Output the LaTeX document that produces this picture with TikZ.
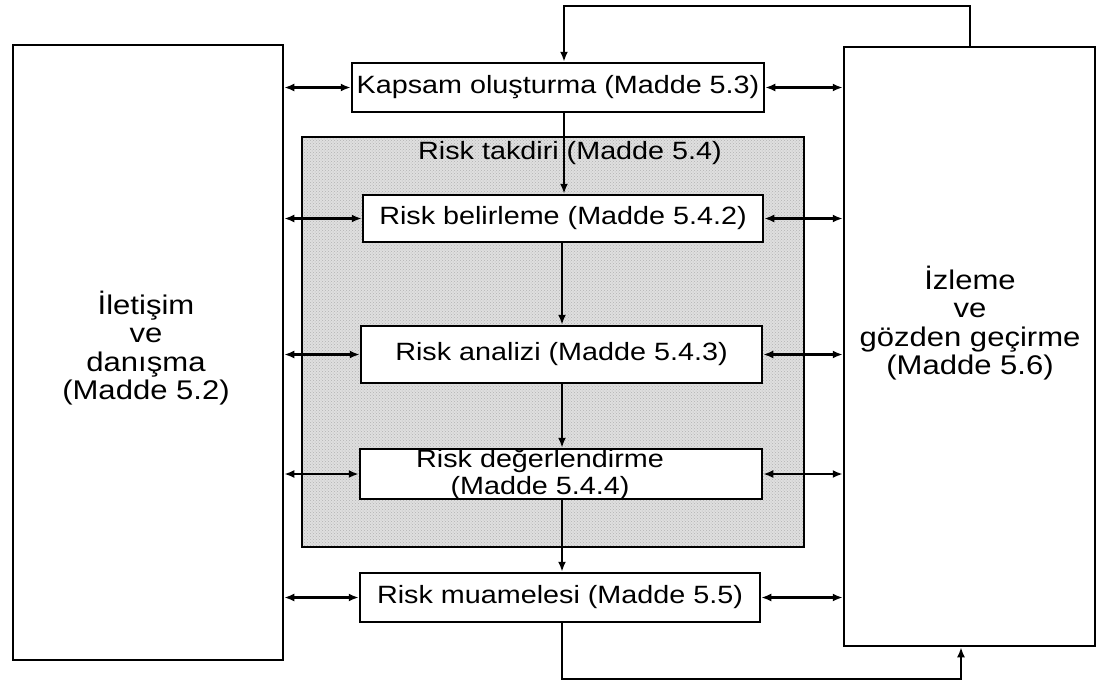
\documentclass[tikz,border=0pt]{standalone}
\usepackage{fontspec}
\setmainfont{Liberation Sans}[FakeStretch=1.15]
\usetikzlibrary{arrows.meta,patterns}
\begin{document}
\begin{tikzpicture}[x=1pt,y=-1pt,line width=2.5pt,
  box/.style={draw,fill=white,inner sep=0pt,rectangle},
  txt/.style={font=\fontsize{25}{27}\selectfont},
  side/.style={font=\fontsize{27}{28.5}\selectfont,align=center,inner sep=0pt},
  arr/.style={-{Latex[length=10pt,width=8pt]}},
  darr/.style={{Latex[length=10pt,width=8pt]}-{Latex[length=10pt,width=8pt]}}]
\useasboundingbox (0,0) rectangle (1100,697);
% side boxes
\node[box,minimum width=270pt,minimum height=615pt] (L) at (148,352.5) {};
\node[box,minimum width=251pt,minimum height=599pt] (R) at (969.5,346.5) {};
\node[side] (LT) at (146,348) {İletişim\\ve\\danışma\\(Madde 5.2)};
\node[side] (RT) at (970,323) {İzleme\\ve\\gözden geçirme\\(Madde 5.6)};
% shaded risk assessment area
\node[draw,preaction={fill=gray!25},pattern=crosshatch dots,pattern color=gray!60,
      inner sep=0pt,minimum width=502pt,minimum height=410pt] (S) at (553,342) {};
\node[txt,inner sep=0pt] (ST) at (570,153) {Risk takdiri (Madde 5.4)};
% process boxes
\node[box,txt,minimum width=412pt,minimum height=49pt] (K) at (558,87.5) {Kapsam oluşturma (Madde 5.3)};
\node[box,txt,minimum width=400pt,minimum height=47pt] (B) at (563,218.5) {Risk belirleme (Madde 5.4.2)};
\node[box,txt,minimum width=401pt,minimum height=57pt] (A) at (561.5,354.5) {Risk analizi (Madde 5.4.3)};
\node[box,minimum width=402pt,minimum height=50pt] (D) at (561,474) {};
\node[txt,align=center,inner sep=0pt] (DT) at (540,474.5) {Risk değerlendirme\\(Madde 5.4.4)};
\node[box,txt,minimum width=400pt,minimum height=49pt] (M) at (560,597.5) {Risk muamelesi (Madde 5.5)};
% helper coordinates
\coordinate (sp) at (564,0);
\coordinate (sq) at (562,0);
\coordinate (tl) at (970,6);
\coordinate (bl) at (961,679);
% horizontal double arrows
\foreach \n in {K,B,A,D,M}{
  \draw[darr] (L.east |- \n.west) -- (\n.west);
  \draw[darr] (R.west |- \n.east) -- (\n.east);
}
% vertical flow
\draw[arr] (K.south -| sp) -- (B.north -| sp);
\draw[arr] (B.south -| sq) -- (A.north -| sq);
\draw[arr] (A.south -| sq) -- (D.north -| sq);
\draw[arr] (D.south -| sq) -- (M.north -| sq);
% feedback loops
\draw[arr] (R.north -| tl) -- (tl) -| (K.north -| sp);
\draw[arr] (M.south -| sq) |- (bl) -- (R.south -| bl);
\end{tikzpicture}
\end{document}
